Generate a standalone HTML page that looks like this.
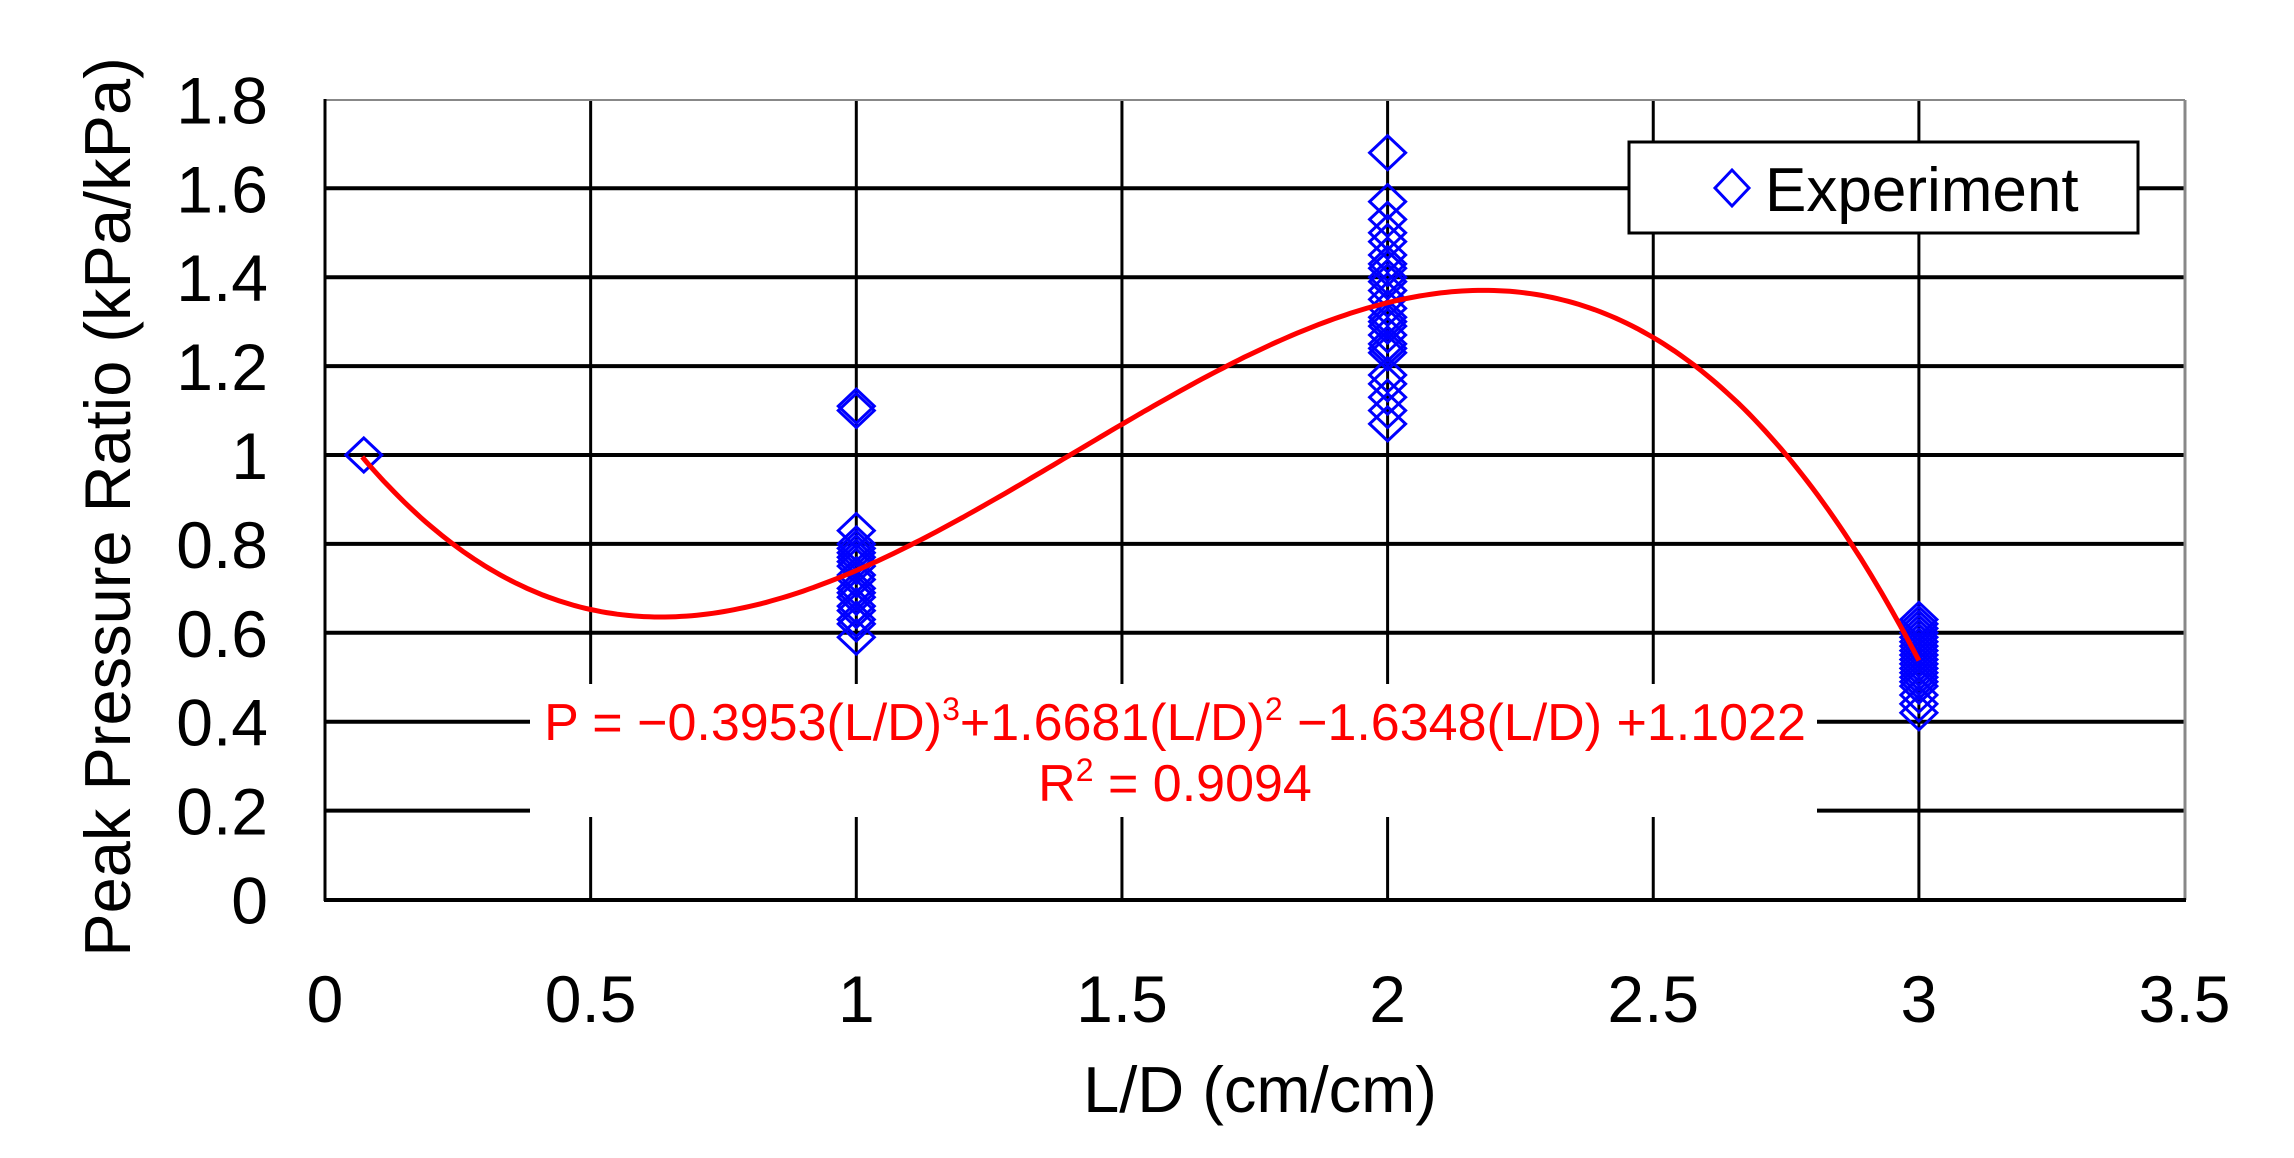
<!DOCTYPE html>
<html><head><meta charset="utf-8"><style>
html,body{margin:0;padding:0;background:#fff;}
svg{display:block;font-family:"Liberation Sans",Arial,sans-serif;}
</style></head><body>
<svg id="s" width="2294" height="1158" xmlns="http://www.w3.org/2000/svg">
<rect width="2294" height="1158" fill="#fff"/>
<g id="grid" stroke="#000"></g>
<!-- equation box -->
<rect x="530" y="684" width="1287" height="133" fill="#fff"/>
<!-- border -->
<line x1="325" y1="100" x2="2185" y2="100" stroke="#888" stroke-width="2"/>
<line x1="2185" y1="100" x2="2185" y2="900" stroke="#888" stroke-width="3"/>
<line x1="325" y1="99" x2="325" y2="901" stroke="#000" stroke-width="3"/>
<line x1="324" y1="900" x2="2186" y2="900" stroke="#000" stroke-width="4"/>
<g id="pts" fill="none" stroke="#0000ff" stroke-width="3"></g>
<path id="curve" fill="none" stroke="#ff0000" stroke-width="5"/>
<g font-size="52" fill="#ff0000" text-anchor="middle">
<text x="1175" y="740">P = −0.3953(L/D)<tspan font-size="32" dy="-20">3</tspan><tspan dy="20">+1.6681(L/D)</tspan><tspan font-size="32" dy="-20">2</tspan><tspan dy="20"> −1.6348(L/D) +1.1022</tspan></text>
<text x="1175" y="801">R<tspan font-size="32" dy="-20">2</tspan><tspan dy="20"> = 0.9094</tspan></text>
</g>
<!-- legend -->
<rect x="1629" y="142" width="509" height="91" fill="#fff" stroke="#000" stroke-width="3"/>
<path d="M1732,170 L1749,188 L1732,206 L1715,188 Z" fill="none" stroke="#0000ff" stroke-width="3"/>
<text x="1765" y="211" font-size="62" fill="#000">Experiment</text>
<g id="lbl" font-size="66" fill="#000"></g>
<text transform="translate(130,507) rotate(-90)" text-anchor="middle" font-size="65" fill="#000">Peak Pressure Ratio (kPa/kPa)</text>
<text x="1260" y="1112" text-anchor="middle" font-size="65" fill="#000">L/D (cm/cm)</text>
</svg>
<script>
var NS="http://www.w3.org/2000/svg";
function X(v){return 325+531.3*v;}
function Y(v){return 899.5-444.5*v;}
function el(p,t,a,txt){var e=document.createElementNS(NS,t);for(var k in a)e.setAttribute(k,a[k]);if(txt!==undefined)e.textContent=txt;p.appendChild(e);return e;}
var g=document.getElementById("grid");
for(var i=1;i<=8;i++){var y=Y(i*0.2);el(g,"line",{x1:325,y1:y,x2:2185,y2:y,"stroke-width":4});}
for(var j=1;j<=6;j++){var x=X(j*0.5);el(g,"line",{x1:x,y1:100,x2:x,y2:900,"stroke-width":3});}
var L=document.getElementById("lbl");
var yl=["0","0.2","0.4","0.6","0.8","1","1.2","1.4","1.6","1.8"];
for(var i=0;i<10;i++){el(L,"text",{x:268,y:Y(i*0.2)+24,"text-anchor":"end"},yl[i]);}
var xl=["0","0.5","1","1.5","2","2.5","3","3.5"];
for(var j=0;j<8;j++){el(L,"text",{x:X(j*0.5),y:1022,"text-anchor":"middle"},xl[j]);}
var data=[[0.073,[1.0]],[1,[1.10,1.11,0.83,0.80,0.79,0.78,0.77,0.76,0.75,0.73,0.72,0.70,0.69,0.68,0.66,0.65,0.63,0.62,0.59]],
[2,[1.68,1.57,1.53,1.50,1.48,1.45,1.43,1.42,1.40,1.39,1.37,1.35,1.33,1.31,1.30,1.29,1.27,1.25,1.24,1.23,1.18,1.16,1.13,1.10,1.07]],
[3,[0.63,0.62,0.61,0.60,0.59,0.58,0.57,0.56,0.55,0.54,0.53,0.52,0.51,0.50,0.49,0.48,0.46,0.44,0.42]]];
var P=document.getElementById("pts");
data.forEach(function(d){var cx=X(d[0]);d[1].forEach(function(v){var cy=Y(v);
el(P,"path",{d:"M"+cx+","+(cy-17)+" L"+(cx+18)+","+cy+" L"+cx+","+(cy+17)+" L"+(cx-18)+","+cy+" Z"});});});
var s="";for(var t=0.07;t<=3.0001;t+=0.01){var p=-0.3953*t*t*t+1.6681*t*t-1.6348*t+1.1022;s+=(s?"L":"M")+X(t).toFixed(1)+","+Y(p).toFixed(1);}
document.getElementById("curve").setAttribute("d",s);
</script>
</body></html>
